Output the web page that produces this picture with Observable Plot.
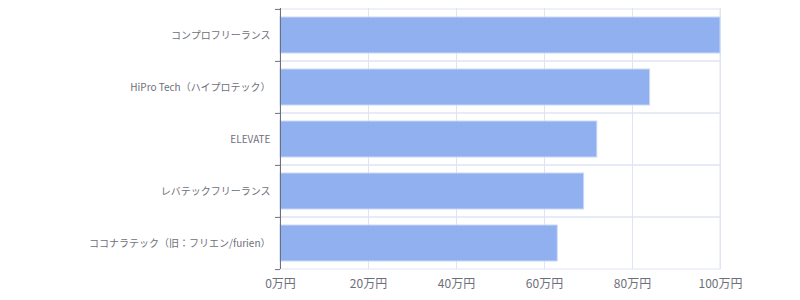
<!DOCTYPE html>
<html>
<head>
<meta charset="utf-8">
<script src="https://cdn.jsdelivr.net/npm/d3@7"></script>
<script src="https://cdn.jsdelivr.net/npm/@observablehq/plot@0.6"></script>
<style>
  html, body { margin: 0; padding: 0; background: #fff; }
  #chart { width: 800px; height: 300px; }
</style>
</head>
<body>
<div id="chart"></div>
<script>
const categories = [
  "コンプロフリーランス",
  "HiPro Tech（ハイプロテック）",
  "ELEVATE",
  "レバテックフリーランス",
  "ココナラテック（旧：フリエン/furien）"
];
const values = [100, 84, 72, 69, 63];
const xTicks = [0, 20, 40, 60, 80, 100];
const xTickLabels = ["0万円", "20万円", "40万円", "60万円", "80万円", "100万円"];

const data = categories.map((c, i) => ({name: c, value: values[i]}));

const W = 800, H = 300, mt = 8, mb = 31, ml = 280, mr = 80;
const step = (H - mt - mb) / categories.length;
const tickLen = 5 * 100 / (W - ml - mr); // 5px in x units
const gridColor = "#dfe4f2";
const axisColor = "#6e7079";
const font = "'Noto Sans CJK JP', 'Noto Sans', sans-serif";

const chart = Plot.plot({
  width: W,
  height: H,
  marginTop: mt,
  marginBottom: mb,
  marginLeft: ml,
  marginRight: mr,
  style: {fontFamily: font, background: "#fff"},
  x: {domain: [0, 100], label: null},
  y: {domain: categories, padding: 0, label: null},
  marks: [
    // horizontal band boundary lines
    Plot.barX(categories, {y: d => d, x1: 0, x2: 100, fill: "none", stroke: gridColor, strokeWidth: 1}),
    // vertical grid lines
    Plot.ruleX(xTicks.slice(1), {stroke: gridColor, strokeWidth: 1}),
    // bars
    Plot.barX(data, {
      y: "name", x: "value",
      fill: "#8aacee", fillOpacity: 0.95,
      stroke: "#c9d8f6", strokeWidth: 1,
      insetTop: 8, insetBottom: 8
    }),
    // y-axis line
    Plot.ruleX([0], {stroke: axisColor, strokeWidth: 1}),
    // boundary ticks on y axis (top of each band, and bottom of last)
    Plot.ruleY(categories, {y: d => d, x1: -tickLen, x2: 0, dy: -step / 2, stroke: axisColor}),
    Plot.ruleY(categories.slice(-1), {y: d => d, x1: -tickLen, x2: 0, dy: step / 2, stroke: axisColor}),
    Plot.axisY({tickSize: 0, tickPadding: 10, fontSize: 10, fill: "#6e7079", fontFamily: font, label: null}),
    Plot.axisX({
      ticks: xTicks, tickSize: 0, tickPadding: 10, fontSize: 12, fill: "#6e7079",
      tickFormat: d => xTickLabels[xTicks.indexOf(d)], fontFamily: font, label: null
    })
  ]
});

document.getElementById("chart").appendChild(chart);
</script>
</body>
</html>
